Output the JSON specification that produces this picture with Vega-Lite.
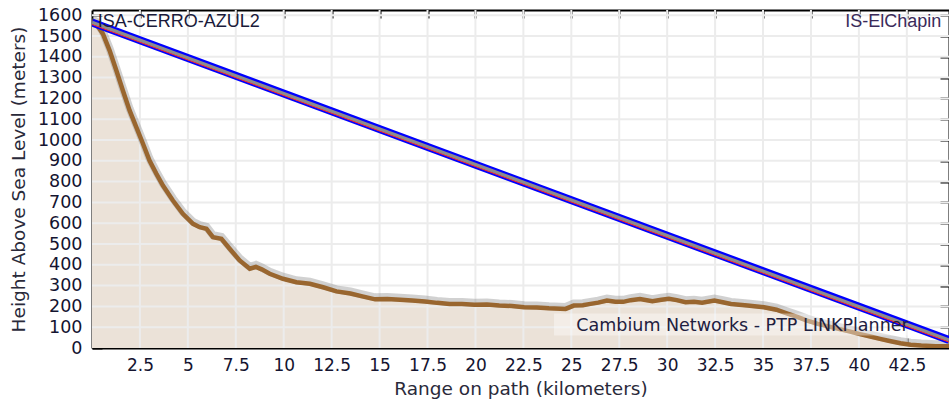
{
  "$schema": "https://vega.github.io/schema/vega-lite/v6.json",
  "width": 857,
  "height": 338,
  "autosize": {"type": "none"},
  "padding": {"left": 92, "top": 10, "right": 0, "bottom": 55},
  "background": "white",
  "datasets": {
    "terrain": [
      {"km": 0, "h": 1572}, {"km": 0.22, "h": 1559}, {"km": 0.57, "h": 1510}, {"km": 0.92, "h": 1430},
      {"km": 1.27, "h": 1334}, {"km": 1.61, "h": 1238}, {"km": 1.96, "h": 1142}, {"km": 2.31, "h": 1062},
      {"km": 2.66, "h": 982}, {"km": 3.0, "h": 901}, {"km": 3.36, "h": 837}, {"km": 3.7, "h": 781},
      {"km": 4.22, "h": 709}, {"km": 4.74, "h": 645}, {"km": 5.27, "h": 597}, {"km": 5.62, "h": 581},
      {"km": 5.97, "h": 573}, {"km": 6.31, "h": 533}, {"km": 6.75, "h": 525}, {"km": 7.18, "h": 477},
      {"km": 7.7, "h": 421}, {"km": 8.23, "h": 381}, {"km": 8.55, "h": 390}, {"km": 8.85, "h": 378},
      {"km": 9.27, "h": 357}, {"km": 9.96, "h": 333}, {"km": 10.66, "h": 316}, {"km": 11.36, "h": 309},
      {"km": 12.05, "h": 292}, {"km": 12.75, "h": 272}, {"km": 13.48, "h": 262}, {"km": 14.1, "h": 248},
      {"km": 14.77, "h": 234}, {"km": 15.4, "h": 236}, {"km": 16.07, "h": 232}, {"km": 16.7, "h": 228},
      {"km": 17.36, "h": 224}, {"km": 18.0, "h": 217}, {"km": 18.65, "h": 212}, {"km": 19.3, "h": 211},
      {"km": 19.95, "h": 208}, {"km": 20.6, "h": 209}, {"km": 21.24, "h": 204}, {"km": 21.9, "h": 202},
      {"km": 22.54, "h": 196}, {"km": 23.2, "h": 195}, {"km": 23.83, "h": 191}, {"km": 24.7, "h": 188},
      {"km": 25.13, "h": 204}, {"km": 25.6, "h": 206}, {"km": 26.0, "h": 212}, {"km": 26.4, "h": 218},
      {"km": 26.86, "h": 228}, {"km": 27.3, "h": 222}, {"km": 27.7, "h": 222}, {"km": 28.1, "h": 230},
      {"km": 28.58, "h": 236}, {"km": 29.23, "h": 225}, {"km": 29.7, "h": 232}, {"km": 30.09, "h": 237},
      {"km": 30.5, "h": 230}, {"km": 30.96, "h": 220}, {"km": 31.4, "h": 222}, {"km": 31.82, "h": 218},
      {"km": 32.46, "h": 228}, {"km": 32.9, "h": 220}, {"km": 33.33, "h": 212}, {"km": 34.19, "h": 204},
      {"km": 35.05, "h": 196}, {"km": 35.7, "h": 184}, {"km": 36.2, "h": 168}, {"km": 36.78, "h": 150},
      {"km": 37.3, "h": 132}, {"km": 37.86, "h": 116}, {"km": 38.4, "h": 104}, {"km": 38.94, "h": 92},
      {"km": 39.5, "h": 80}, {"km": 40.0, "h": 68}, {"km": 40.6, "h": 55}, {"km": 41.1, "h": 44},
      {"km": 41.6, "h": 34}, {"km": 42.17, "h": 23}, {"km": 42.7, "h": 16}, {"km": 43.25, "h": 12},
      {"km": 44.0, "h": 9}, {"km": 44.7, "h": 8}
    ],
    "los": [{"km": 0, "h": 1565}, {"km": 44.7, "h": 38}],
    "xgrid": [
      {"km": 2.5}, {"km": 5}, {"km": 7.5}, {"km": 10}, {"km": 12.5}, {"km": 15}, {"km": 17.5}, {"km": 20}, {"km": 22.5},
      {"km": 25}, {"km": 27.5}, {"km": 30}, {"km": 32.5}, {"km": 35}, {"km": 37.5}, {"km": 40}, {"km": 42.5}
    ],
    "ygrid": [
      {"h": 100}, {"h": 200}, {"h": 300}, {"h": 400}, {"h": 500}, {"h": 600}, {"h": 700}, {"h": 800},
      {"h": 900}, {"h": 1000}, {"h": 1100}, {"h": 1200}, {"h": 1300}, {"h": 1400}, {"h": 1500}, {"h": 1600}
    ],
    "sites": [
      {"km": 0.3, "h": 1568, "name": "ISA-CERRO-AZUL2", "side": "left"},
      {"km": 44.3, "h": 1568, "name": "IS-ElChapin", "side": "right"}
    ],
    "credit": [{"km": 42.6, "h": 108, "name": "Cambium Networks - PTP LINKPlanner", "k1": 24.1, "k2": 42.6, "h1": 60, "h2": 166}]
  },
  "layer": [
    {
      "data": {"name": "terrain"},
      "mark": {"type": "area", "color": "#ebe2d8", "clip": true},
      "encoding": {
        "x": {
          "field": "km", "type": "quantitative",
          "scale": {"domain": [0, 44.7], "nice": false, "zero": false},
          "axis": {
            "orient": "bottom",
            "title": "Range on path (kilometers)",
            "values": [2.5, 5, 7.5, 10, 12.5, 15, 17.5, 20, 22.5, 25, 27.5, 30, 32.5, 35, 37.5, 40, 42.5],
            "format": ".1~f",
            "grid": false,
            "domain": true, "domainColor": "#000000", "domainWidth": 2,
            "ticks": true, "tickSize": -10, "tickColor": "#000000", "tickWidth": 2,
            "labelPadding": 19, "labelFont": "DejaVu Sans", "labelFontSize": 17, "labelColor": "#141430",
            "labelFlush": false, "labelOverlap": false,
            "titleFont": "DejaVu Sans", "titleFontSize": 18.5, "titleFontWeight": "normal", "titleColor": "#2a2a3a",
            "titlePadding": 6
          }
        },
        "y": {
          "field": "h", "type": "quantitative",
          "scale": {"domain": [0, 1625], "nice": false},
          "axis": {
            "orient": "left",
            "title": "Height Above Sea Level (meters)",
            "values": [0, 100, 200, 300, 400, 500, 600, 700, 800, 900, 1000, 1100, 1200, 1300, 1400, 1500, 1600],
            "format": "d",
            "grid": false,
            "domain": true, "domainColor": "#000000", "domainWidth": 2,
            "ticks": true, "tickSize": -10, "tickColor": "#000000", "tickWidth": 2,
            "labelPadding": 20, "labelFont": "DejaVu Sans", "labelFontSize": 17.5, "labelColor": "#141430",
            "labelFlush": false, "labelOverlap": false,
            "titleFont": "DejaVu Sans", "titleFontSize": 18.5, "titleFontWeight": "normal", "titleColor": "#2a2a3a",
            "titlePadding": 9
          }
        }
      }
    },
    {
      "data": {"name": "xgrid"},
      "mark": {"type": "rule", "color": "#ececec", "strokeWidth": 2},
      "encoding": {
        "x": {"field": "km", "type": "quantitative", "axis": {"orient": "top", "title": null, "labels": false, "values": [2.5, 5, 7.5, 10, 12.5, 15, 17.5, 20, 22.5, 25, 27.5, 30, 32.5, 35, 37.5, 40, 42.5], "grid": false, "domain": true, "domainColor": "#000000", "domainWidth": 2, "tickSize": -8, "tickColor": "#000000", "tickWidth": 2}}
      }
    },
    {
      "data": {"name": "ygrid"},
      "mark": {"type": "rule", "color": "#ececec", "strokeWidth": 2},
      "encoding": {
        "y": {"field": "h", "type": "quantitative", "axis": {"orient": "right", "title": null, "labels": false, "values": [100, 200, 300, 400, 500, 600, 700, 800, 900, 1000, 1100, 1200, 1300, 1400, 1500, 1600], "grid": false, "domain": true, "domainColor": "#000000", "domainWidth": 2, "tickSize": -9, "tickColor": "#000000", "tickWidth": 2}}
      }
    },
    {
      "data": {"name": "terrain"},
      "mark": {"type": "line", "color": "#9a9a9a", "strokeWidth": 8, "opacity": 0.45, "yOffset": -2, "clip": true},
      "encoding": {
        "x": {"field": "km", "type": "quantitative", "axis": null},
        "y": {"field": "h", "type": "quantitative", "axis": null}
      }
    },
    {
      "data": {"name": "terrain"},
      "mark": {"type": "line", "color": "#99662f", "strokeWidth": 4.5, "clip": true},
      "encoding": {
        "x": {"field": "km", "type": "quantitative", "axis": null},
        "y": {"field": "h", "type": "quantitative", "axis": null}
      }
    },
    {
      "data": {"name": "credit"},
      "mark": {"type": "rect", "color": "#ffffff", "opacity": 0.4},
      "encoding": {
        "x": {"field": "k1", "type": "quantitative", "axis": null},
        "x2": {"field": "k2"},
        "y": {"field": "h1", "type": "quantitative", "axis": null},
        "y2": {"field": "h2"}
      }
    },
    {
      "data": {"name": "los"},
      "mark": {"type": "line", "color": "#0000ff", "strokeWidth": 8, "clip": true},
      "encoding": {
        "x": {"field": "km", "type": "quantitative", "axis": null},
        "y": {"field": "h", "type": "quantitative", "axis": null}
      }
    },
    {
      "data": {"name": "los"},
      "mark": {"type": "line", "color": "#8c8c8c", "strokeWidth": 3.5, "clip": true},
      "encoding": {
        "x": {"field": "km", "type": "quantitative", "axis": null},
        "y": {"field": "h", "type": "quantitative", "axis": null}
      }
    },
    {
      "data": {"name": "los"},
      "mark": {"type": "line", "color": "#ff2a2a", "strokeWidth": 1, "yOffset": 2, "clip": true},
      "encoding": {
        "x": {"field": "km", "type": "quantitative", "axis": null},
        "y": {"field": "h", "type": "quantitative", "axis": null}
      }
    },
    {
      "data": {"name": "credit"},
      "mark": {"type": "text", "align": "right", "baseline": "middle", "font": "DejaVu Sans", "fontSize": 17.5, "color": "#1e2040"},
      "encoding": {
        "x": {"field": "km", "type": "quantitative", "axis": null},
        "y": {"field": "h", "type": "quantitative", "axis": null},
        "text": {"field": "name"}
      }
    },
    {
      "data": {"name": "sites"},
      "transform": [{"filter": "datum.side == 'left'"}],
      "mark": {"type": "text", "align": "left", "baseline": "middle", "font": "Liberation Sans", "fontSize": 18, "color": "#1a1a3a"},
      "encoding": {
        "x": {"field": "km", "type": "quantitative", "axis": null},
        "y": {"field": "h", "type": "quantitative", "axis": null},
        "text": {"field": "name"}
      }
    },
    {
      "data": {"name": "sites"},
      "transform": [{"filter": "datum.side == 'right'"}],
      "mark": {"type": "text", "align": "right", "baseline": "middle", "font": "Liberation Sans", "fontSize": 18, "color": "#3a2a5a"},
      "encoding": {
        "x": {"field": "km", "type": "quantitative", "axis": null},
        "y": {"field": "h", "type": "quantitative", "axis": null},
        "text": {"field": "name"}
      }
    }
  ],
  "resolve": {"axis": {"x": "independent", "y": "independent"}},
  "config": {"view": {"stroke": null}}
}
